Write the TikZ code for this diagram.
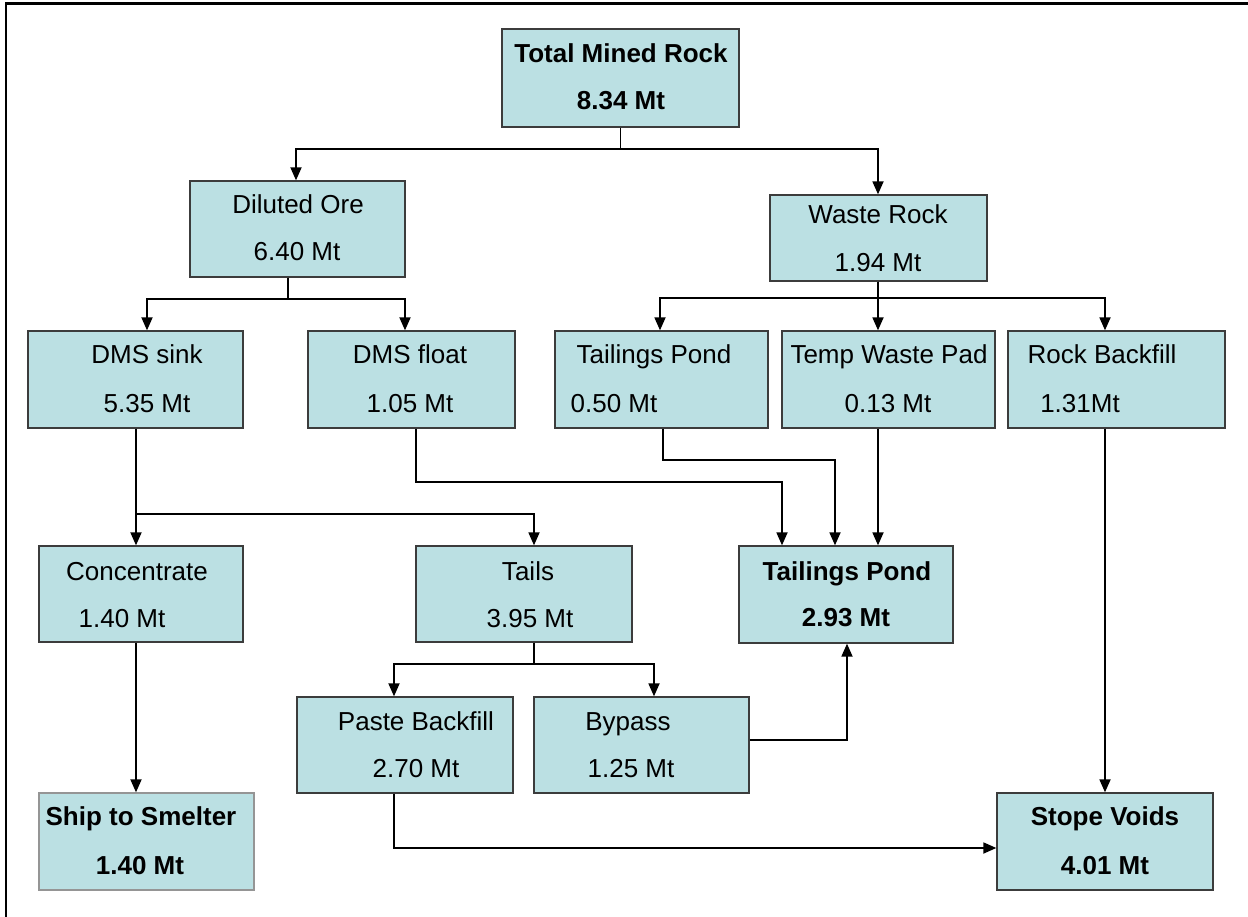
\documentclass[tikz,border=0pt]{standalone}
\usepackage{fontspec}
\setmainfont{Liberation Sans}
\usetikzlibrary{arrows.meta}
\definecolor{boxfill}{HTML}{BBE0E3}
\definecolor{boxline}{HTML}{3C3C3C}
\definecolor{lightline}{HTML}{959595}
\begin{document}
\begin{tikzpicture}[x=1pt,y=-1pt,
  box/.style={draw=boxline, fill=boxfill, line width=1.3pt, inner sep=0pt},
  txt/.style={anchor=base, inner sep=0pt, font=\fontsize{26}{30}\selectfont},
  btxt/.style={anchor=base, inner sep=0pt, font=\fontsize{26}{30}\selectfont\bfseries},
  conn/.style={line width=1.5pt, draw=black},
  arr/.style={line width=1.8pt, draw=black, -{Triangle[length=13pt,width=11pt]}},
]
\useasboundingbox (0,0) rectangle (1248,917);
\draw[line width=2.5pt] (6,917) -- (6,3.5) -- (1248,3.5);

% boxes
\node[box, minimum width=237pt, minimum height=98pt] (total) at (620.5,78) {};
\node[box, minimum width=215pt, minimum height=96pt] (diluted) at (297.5,229) {};
\node[box, minimum width=217pt, minimum height=86pt] (waste) at (878.5,238) {};
\node[box, minimum width=215pt, minimum height=97pt] (dmssink) at (135.5,379.5) {};
\node[box, minimum width=207pt, minimum height=97pt] (dmsfloat) at (411.5,379.5) {};
\node[box, minimum width=213pt, minimum height=97pt] (tp1) at (661.5,379.5) {};
\node[box, minimum width=213pt, minimum height=97pt] (twp) at (888.5,379.5) {};
\node[box, minimum width=217pt, minimum height=97pt] (rbf) at (1116.5,379.5) {};
\node[box, minimum width=204pt, minimum height=96pt] (conc) at (141,594) {};
\node[box, minimum width=216pt, minimum height=96pt] (tails) at (524,594) {};
\node[box, minimum width=214pt, minimum height=97pt] (tp2) at (846,594.5) {};
\node[box, minimum width=216pt, minimum height=96pt] (paste) at (405,745) {};
\node[box, minimum width=215pt, minimum height=96pt] (bypass) at (641.5,745) {};
\node[box, draw=lightline, minimum width=215pt, minimum height=97pt] (ship) at (146.5,841.5) {};
\node[box, minimum width=216pt, minimum height=97pt] (stope) at (1105,841.5) {};

% texts
\node[btxt] (total-a) at (621,63) {Total Mined Rock};
\node[btxt] (total-b) at (621,110) {8.34 Mt};
\node[txt] (diluted-a) at (298,214) {Diluted Ore};
\node[txt] (diluted-b) at (297,261) {6.40 Mt};
\node[txt] (waste-a) at (878,224) {Waste Rock};
\node[txt] (waste-b) at (878,272) {1.94 Mt};
\node[txt] (dmssink-a) at (147,363) {DMS sink};
\node[txt] (dmssink-b) at (147,412) {5.35 Mt};
\node[txt] (dmsfloat-a) at (410,363) {DMS float};
\node[txt] (dmsfloat-b) at (410,412) {1.05 Mt};
\node[txt] (tp1-a) at (654,363) {Tailings Pond};
\node[txt] (tp1-b) at (614,412) {0.50 Mt};
\node[txt] (twp-a) at (889,363) {Temp Waste Pad};
\node[txt] (twp-b) at (888,412) {0.13 Mt};
\node[txt] (rbf-a) at (1102,363) {Rock Backfill};
\node[txt] (rbf-b) at (1080,412) {1.31Mt};
\node[txt] (conc-a) at (137,580) {Concentrate};
\node[txt] (conc-b) at (122,627) {1.40 Mt};
\node[txt] (tails-a) at (528,580) {Tails};
\node[txt] (tails-b) at (530,627) {3.95 Mt};
\node[btxt] (tp2-a) at (847,580) {Tailings Pond};
\node[btxt] (tp2-b) at (846,626) {2.93 Mt};
\node[txt] (paste-a) at (416,730) {Paste Backfill};
\node[txt] (paste-b) at (416,777) {2.70 Mt};
\node[txt] (bypass-a) at (628,730) {Bypass};
\node[txt] (bypass-b) at (631,777) {1.25 Mt};
\node[btxt] (ship-a) at (141,825) {Ship to Smelter};
\node[btxt] (ship-b) at (140,874) {1.40 Mt};
\node[btxt] (stope-a) at (1105,825) {Stope Voids};
\node[btxt] (stope-b) at (1105,874) {4.01 Mt};

% connectors
\draw[arr] (total.south) -- ++(0,21) -| (diluted.north -| 296,0);
\draw[arr] (total.south) -- ++(0,21) -| (waste.north -| 878,0);
\draw[arr] (diluted.south -| 288,0) -- (288,299) -| (dmssink.north -| 147,0);
\draw[arr] (diluted.south -| 288,0) -- (288,299) -| (dmsfloat.north -| 405,0);
\draw[arr] (waste.south -| 878,0) -- (878,298) -| (tp1.north -| 660,0);
\draw[arr] (waste.south -| 878,0) -- (twp.north -| 878,0);
\draw[arr] (waste.south -| 878,0) -- (878,298) -| (rbf.north -| 1105,0);
\draw[arr] (dmssink.south -| 136,0) -- (conc.north -| 136,0);
\draw[arr] (dmssink.south -| 136,0) |- (534,514) -- (tails.north -| 534,0);
\draw[arr] (dmsfloat.south -| 416,0) |- (782,482) -- (tp2.north -| 782,0);
\draw[arr] (tp1.south -| 663,0) |- (835,460) -- (tp2.north -| 835,0);
\draw[arr] (twp.south -| 878,0) -- (tp2.north -| 878,0);
\draw[arr] (rbf.south -| 1105,0) -- (stope.north -| 1105,0);
\draw[arr] (conc.south -| 136,0) -- (ship.north -| 136,0);
\draw[arr] (tails.south -| 534,0) -- (534,664) -| (paste.north -| 394,0);
\draw[arr] (tails.south -| 534,0) -- (534,664) -| (bypass.north -| 654,0);
\draw[arr] (bypass.east |- 0,740) -| (tp2.south -| 847,0);
\draw[arr] (paste.south -| 394,0) |- (stope.west |- 0,848);
\end{tikzpicture}
\end{document}
